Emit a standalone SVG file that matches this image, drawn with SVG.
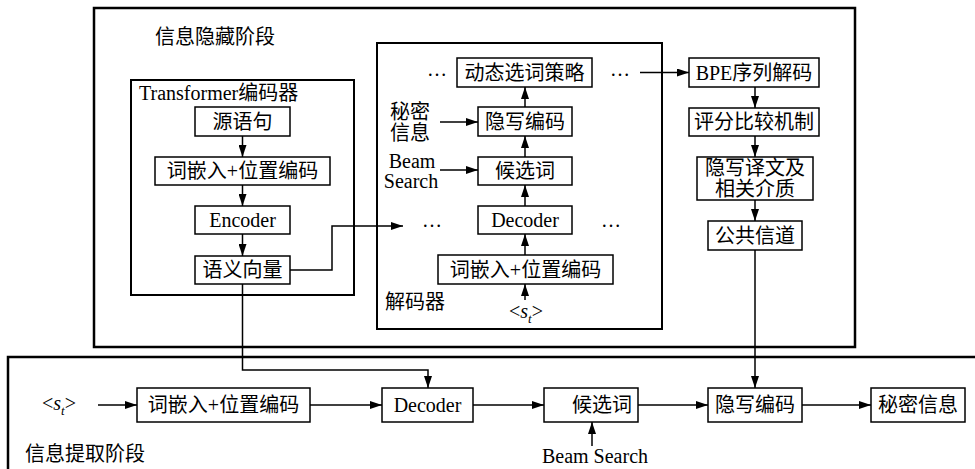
<svg xmlns="http://www.w3.org/2000/svg" width="975" height="469" viewBox="0 0 975 469">
<style>
.t{font-family:"Liberation Serif","Noto Sans CJK SC",serif;font-size:20px;fill:#000}
.c{text-anchor:middle}
.box{fill:#fff;stroke:#000;stroke-width:1.5}
.frame{fill:none;stroke:#000;stroke-width:2.5}
.ln{fill:none;stroke:#000;stroke-width:1.5}
</style>
<defs>
<marker id="ah" viewBox="0 0 12 8" refX="12" refY="4" markerWidth="12" markerHeight="8" markerUnits="userSpaceOnUse" orient="auto">
<path d="M0,0 L12,4 L0,8 Z" fill="#000"/>
</marker>
</defs>
<rect width="975" height="469" fill="#fff"/>

<g id="hide-stage">
<rect class="frame" x="94" y="8" width="761" height="339"/>
<text class="t" x="155" y="44">信息隐藏阶段</text>
</g>
<g id="extract-stage">
<rect class="frame" x="8" y="357" width="990" height="130"/>
<text class="t" x="25" y="461">信息提取阶段</text>
</g>

<g id="encoder">
<rect class="frame" x="131" y="80" width="223" height="215" style="stroke-width:2"/>
<text class="t" x="139" y="100">Transformer编码器</text>
</g>
<g id="src"><rect class="box" x="195" y="107" width="95" height="29"/><text class="t c" x="242.5" y="128.5">源语句</text></g>
<g id="emb1"><rect class="box" x="155" y="157" width="175" height="28"/><text class="t c" x="242.5" y="178">词嵌入+位置编码</text></g>
<g id="enc"><rect class="box" x="195" y="206" width="95" height="28"/><text class="t c" x="242.5" y="227">Encoder</text></g>
<g id="sem"><rect class="box" x="195" y="256" width="95" height="28"/><text class="t c" x="242.5" y="277">语义向量</text></g>

<g id="decoder">
<rect class="frame" x="377" y="43" width="285" height="286" style="stroke-width:2"/>
<text class="t" x="385" y="309">解码器</text>
</g>
<g id="dyn"><rect class="box" x="457" y="58" width="135" height="29"/><text class="t c" x="524.5" y="79.5">动态选词策略</text></g>
<g id="stego1"><rect class="box" x="478" y="107" width="94" height="29"/><text class="t c" x="525" y="128.5">隐写编码</text></g>
<g id="cand1"><rect class="box" x="478" y="157" width="94" height="28"/><text class="t c" x="525" y="178">候选词</text></g>
<g id="dec1"><rect class="box" x="478" y="206" width="94" height="28"/><text class="t c" x="525" y="227">Decoder</text></g>
<g id="emb2"><rect class="box" x="438" y="255" width="175" height="29"/><text class="t c" x="525.5" y="276.5">词嵌入+位置编码</text></g>
<g id="st1"><text class="t c" x="526" y="318">&lt;<tspan font-style="italic">s</tspan><tspan font-style="italic" font-size="13" dy="5">t</tspan><tspan dy="-5">&gt;</tspan></text></g>
<g id="secret-label"><text class="t c" x="410" y="119">秘密</text><text class="t c" x="410" y="140">信息</text></g>
<g id="beam-label"><text class="t c" x="412" y="168">Beam</text><text class="t c" x="411" y="188">Search</text></g>
<g id="dots">
<text class="t c" x="437" y="76">…</text>
<text class="t c" x="620" y="76">…</text>
<text class="t c" x="432" y="227">…</text>
<text class="t c" x="611" y="227">…</text>
</g>

<g id="bpe"><rect class="box" x="689" y="58" width="130" height="29"/><text class="t c" x="754" y="79.5">BPE序列解码</text></g>
<g id="score"><rect class="box" x="689" y="108" width="130" height="28"/><text class="t c" x="754" y="129">评分比较机制</text></g>
<g id="stegotext"><rect class="box" x="697" y="157" width="116" height="43"/><text class="t c" x="755" y="175">隐写译文及</text><text class="t c" x="755" y="196">相关介质</text></g>
<g id="channel"><rect class="box" x="708" y="221" width="94" height="29"/><text class="t c" x="755" y="242.5">公共信道</text></g>

<g id="st2"><text class="t c" x="59" y="410">&lt;<tspan font-style="italic">s</tspan><tspan font-style="italic" font-size="13" dy="5">t</tspan><tspan dy="-5">&gt;</tspan></text></g>
<g id="emb3"><rect class="box" x="137" y="388" width="173" height="34"/><text class="t c" x="223.5" y="412">词嵌入+位置编码</text></g>
<g id="dec2"><rect class="box" x="382" y="388" width="91" height="34"/><text class="t c" x="427.5" y="412">Decoder</text></g>
<g id="cand2"><rect class="box" x="544" y="388" width="94" height="34"/><text class="t c" x="602" y="412">候选词</text></g>
<g id="stego2"><rect class="box" x="708" y="388" width="94" height="34"/><text class="t c" x="755" y="412">隐写编码</text></g>
<g id="secret2"><rect class="box" x="871" y="388" width="94" height="34"/><text class="t c" x="918" y="412">秘密信息</text></g>
<g id="beam2"><text class="t c" x="595" y="463">Beam Search</text></g>

<g id="connectors">
<path class="ln" d="M242.5,136 V157" marker-end="url(#ah)"/>
<path class="ln" d="M242.5,185 V206" marker-end="url(#ah)"/>
<path class="ln" d="M242.5,234 V256" marker-end="url(#ah)"/>
<path class="ln" d="M290,270 H332 V226 H403" marker-end="url(#ah)"/>
<path class="ln" d="M242.5,284 V370 H428 V388" marker-end="url(#ah)"/>
<path class="ln" d="M525,300 V284" marker-end="url(#ah)"/>
<path class="ln" d="M525,255 V234" marker-end="url(#ah)"/>
<path class="ln" d="M525,206 V185" marker-end="url(#ah)"/>
<path class="ln" d="M525,157 V136" marker-end="url(#ah)"/>
<path class="ln" d="M525,107 V87" marker-end="url(#ah)"/>
<path class="ln" d="M440,122 H478" marker-end="url(#ah)"/>
<path class="ln" d="M440,170 H478" marker-end="url(#ah)"/>
<path class="ln" d="M640,72.5 H689" marker-end="url(#ah)"/>
<path class="ln" d="M755,87 V108" marker-end="url(#ah)"/>
<path class="ln" d="M755,136 V157" marker-end="url(#ah)"/>
<path class="ln" d="M755,200 V221" marker-end="url(#ah)"/>
<path class="ln" d="M755,250 V388" marker-end="url(#ah)"/>
<path class="ln" d="M98,405 H137" marker-end="url(#ah)"/>
<path class="ln" d="M310,405 H382" marker-end="url(#ah)"/>
<path class="ln" d="M473,405 H544" marker-end="url(#ah)"/>
<path class="ln" d="M638,405 H708" marker-end="url(#ah)"/>
<path class="ln" d="M802,405 H871" marker-end="url(#ah)"/>
<path class="ln" d="M592,446 V422" marker-end="url(#ah)"/>
</g>
</svg>
